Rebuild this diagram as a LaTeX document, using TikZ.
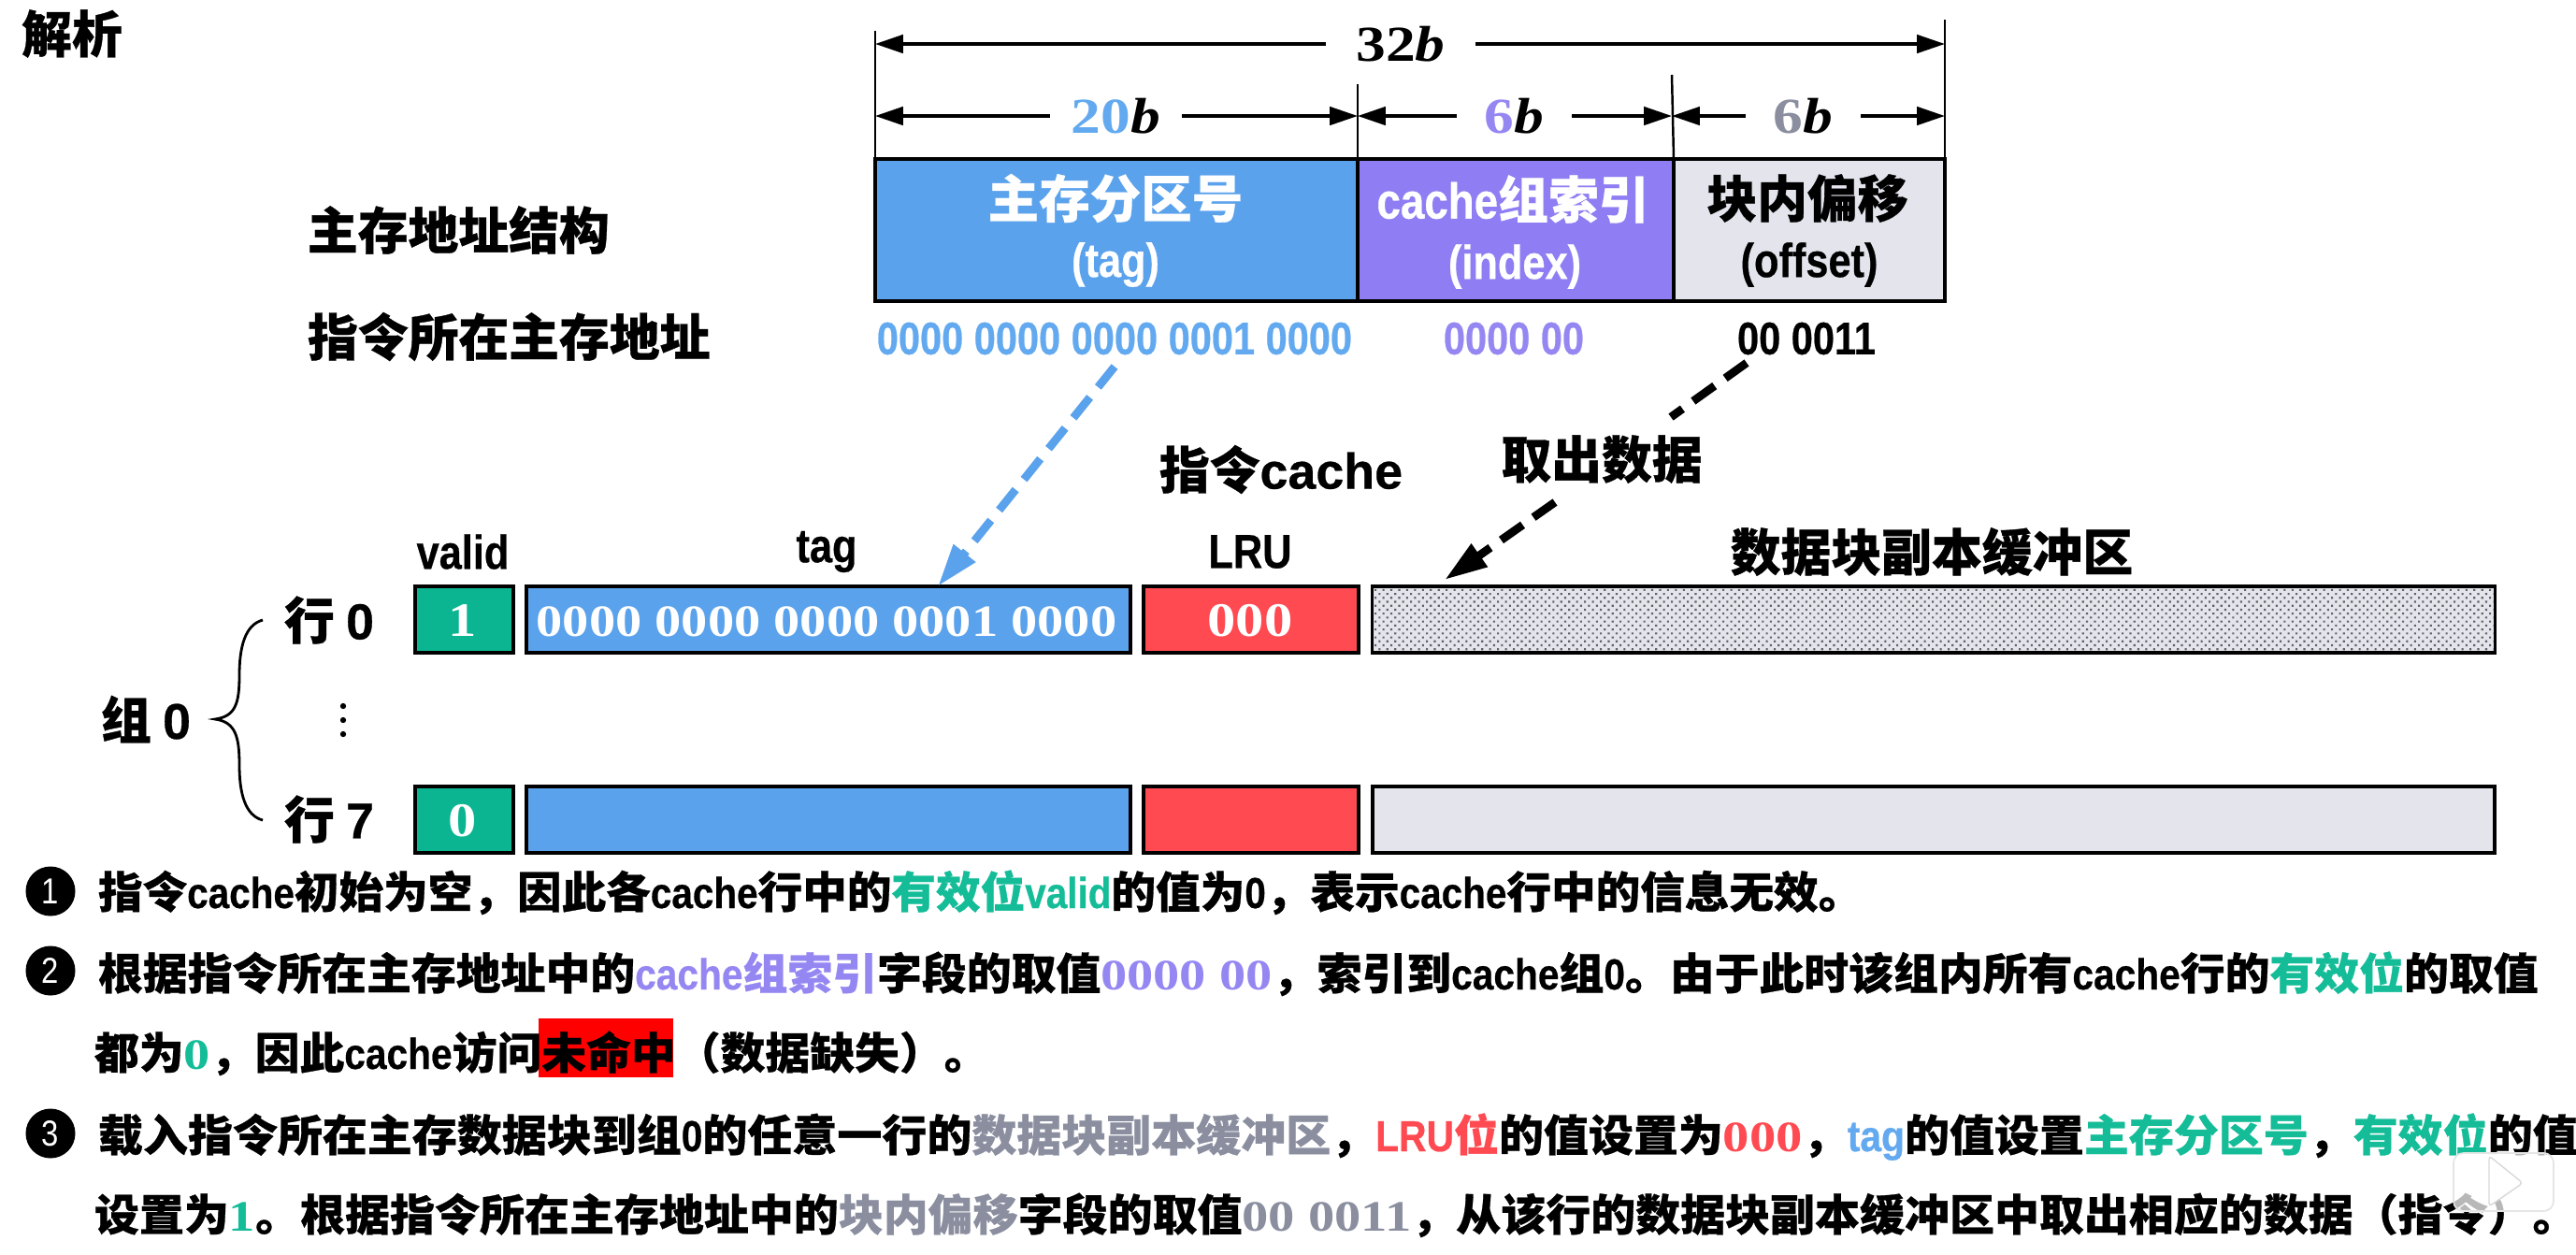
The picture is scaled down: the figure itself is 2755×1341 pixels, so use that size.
\documentclass[tikz,border=0pt]{standalone}
\usepackage{fontspec}
\usepackage{graphicx}
\usetikzlibrary{arrows.meta,patterns.meta}
\setmainfont{Noto Sans CJK SC}[BoldFeatures={FakeBold=0.6}]
\newfontfamily\lat{Liberation Sans}[FakeStretch=0.85,BoldFeatures={FakeBold=0.5}]
\newfontfamily\latw{Liberation Sans}[BoldFeatures={FakeBold=0.5}]
\newfontfamily\ser{Liberation Serif}[FakeStretch=1.18]
\definecolor{cblue}{HTML}{5BA2EC}
\definecolor{cpurple}{HTML}{8F7EF3}
\definecolor{cgray}{HTML}{E3E4EC}
\definecolor{cgreen}{HTML}{0CB592}
\definecolor{cred}{HTML}{FF4A52}
\definecolor{tblue}{HTML}{62A9EF}
\definecolor{tpurple}{HTML}{9587F2}
\definecolor{tgray}{HTML}{8A8E9F}
\definecolor{tgreen}{HTML}{14BC98}
\newcommand\sz[1]{\fontsize{#1}{#1}\selectfont}
\newcommand\la[1]{{\lat #1}}
\newcommand\se[1]{{\ser #1}}
\newcommand\cc[2]{\textcolor{#1}{#2}}
\newcommand\cell[7]{\node[cellbox,fill=#2,minimum width={(#5-#3)*0.01cm},minimum height={(#6-#4)*0.01cm}] (#1) at ({(#3+#5)/2},{(#4+#6)/2}) {#7};}
\newcommand\bodyline[5]{\node[bodytext] (#1) at (#2,#3) {\resizebox{#4cm}{\height}{#5}};}
\tikzset{
  cellbox/.style={draw=black,line width=0.9pt,inner sep=0pt,outer sep=0pt},
  big/.style={font=\bfseries\sz{15.3},inner sep=0pt,outer sep=0pt},
  latlabel/.style={font=\bfseries\sz{14.5}\lat,inner sep=0pt,outer sep=0pt},
  serlabel/.style={font=\bfseries\sz{13.6}\ser,inner sep=0pt,outer sep=0pt},
  sernum/.style={font=\bfseries\sz{14.6}\ser,inner sep=0pt,outer sep=0pt},
  dimlabel/.style={font=\bfseries\sz{15.3}\ser,inner sep=0pt,outer sep=0pt,minimum height=0.4cm},
  dimsingle/.style={line width=1pt,-{Triangle[length=8.5pt,width=5.5pt]}},
  tick/.style={line width=0.7pt},
  bodytext/.style={anchor=base west,font=\bfseries\sz{13.2},inner sep=0pt,outer sep=0pt},
  numdot/.style={circle,fill=black,text=white,minimum size=0.53cm,inner sep=0pt,font=\sz{11}\lat},
  dashline/.style={line width=2.5pt,dash pattern=on 8pt off 4pt},
}
\begin{document}
\begin{tikzpicture}[x=0.01cm,y=-0.01cm]
\useasboundingbox (0,0) rectangle (2755,1341);

\node[big] (title) at (77,36) {解析};
\node[big,anchor=west] (lblA) at (329,246) {主存地址结构};
\node[big,anchor=west] (lblB) at (329,360) {指令所在主存地址};

% address structure
\cell{fTag}{cblue}{936}{170}{1452}{322}{}
\cell{fIdx}{cpurple}{1452}{170}{1790}{322}{}
\cell{fOff}{cgray}{1790}{170}{2080}{322}{}
\node[big,font=\bfseries\sz{15.5},text=white] (tTag) at (1193,212) {主存分区号};
\node[latlabel,text=white] (tTagB) at (1193,283) {(tag)};
\node[big,text=white] (tIdx) at (1618,213) {\la{cache}组索引};
\node[latlabel,text=white] (tIdxB) at (1620,285) {(index)};
\node[big] (tOff) at (1933,212) {块内偏移};
\node[latlabel] (tOffB) at (1935,283) {(offset)};

% dimension ticks
\coordinate (k1) at (936,33);
\coordinate (k2) at (1452,90);
\coordinate (k3) at (1788,80);
\coordinate (k4) at (2080,21);
\draw[tick] (fTag.north west) -- (k1);
\draw[tick] (fTag.north east) -- (k2);
\draw[tick] (fOff.north west) -- (k3);
\draw[tick] (fOff.north east) -- (k4);

\node[dimlabel,minimum width=1.6cm] (d32) at (1498,47) {32\textit{b}};
\node[dimlabel,minimum width=1.41cm] (d20) at (1193.5,124) {\cc{tblue}{20}\textit{b}};
\node[dimlabel,minimum width=1.23cm] (d6a) at (1619.5,124) {\cc{tpurple}{6}\textit{b}};
\node[dimlabel,minimum width=1.23cm] (d6b) at (1928.5,124) {\cc{tgray}{6}\textit{b}};
\coordinate (a1) at (936,47);
\coordinate (a2) at (2080,47);
\coordinate (b1) at (936,124);
\coordinate (b2) at (1452,124);
\coordinate (b3) at (1788,124);
\coordinate (b4) at (2080,124);
\draw[dimsingle] (d32.west) -- (a1);
\draw[dimsingle] (d32.east) -- (a2);
\draw[dimsingle] (d20.west) -- (b1);
\draw[dimsingle] (d20.east) -- (b2);
\draw[dimsingle] (d6a.west) -- (b2);
\draw[dimsingle] (d6a.east) -- (b3);
\draw[dimsingle] (d6b.west) -- (b3);
\draw[dimsingle] (d6b.east) -- (b4);

% address bits
\node[latlabel,font=\bfseries\sz{13.9}\lat,text=tblue] (bTag) at (1192,362) {0000 0000 0000 0001 0000};
\node[latlabel,font=\bfseries\sz{13.9}\lat,text=tpurple] (bIdx) at (1619,362) {0000 00};
\node[latlabel,font=\bfseries\sz{13.9}\lat] (bOff) at (1932,362) {00 0011};

\node[big] (lCache) at (1370,502) {指令{\latw cache}};
\node[big] (lFetch) at (1713,491) {取出数据};

% cache headers
\node[latlabel] (hV) at (495,590) {valid};
\node[latlabel] (hT) at (884,590) {tag};
\node[latlabel] (hL) at (1337,590) {LRU};
\node[big] (hD) at (2066,590) {数据块副本缓冲区};

% cache rows
\cell{v0}{cgreen}{444}{627}{549}{698}{}
\cell{t0}{cblue}{563}{627}{1209}{698}{}
\cell{l0}{cred}{1223}{627}{1453}{698}{}
\node[cellbox,fill=cgray,minimum width=12.00cm,minimum height=0.71cm] (d0) at (2068,662.5) {};
\fill[pattern={Dots[distance=1.7pt,radius=0.42pt,angle=45]},pattern color=black!62] ([xshift=0.5pt,yshift=-0.5pt]d0.north west) rectangle ([xshift=-0.5pt,yshift=0.5pt]d0.south east);
\cell{v7}{cgreen}{444}{841}{549}{912}{}
\cell{t7}{cblue}{563}{841}{1209}{912}{}
\cell{l7}{cred}{1223}{841}{1453}{912}{}
\cell{d7}{cgray}{1468}{841}{2668}{912}{}
\node[sernum,text=white] (xV0) at (495,664) {1};
\node[serlabel,text=white] (xT0) at (884,665) {0000 0000 0000 0001 0000};
\node[sernum,text=white] (xL0) at (1337,664) {000};
\node[sernum,text=white] (xV7) at (495,878) {0};

% row labels
\node[big] (r0) at (352,663) {行 {\latw 0}};
\node[big] (r7) at (352,876) {行 {\latw 7}};
\node[big] (g0) at (156,769) {组 {\latw 0}};
\fill (367,755) circle (0.9pt) (367,770) circle (0.9pt) (367,785) circle (0.9pt);
\draw[line width=0.8pt] (281,663) .. controls (262,668) and (256,692) .. (256,722)
  .. controls (256,752) and (252,766) .. (230,769)
  .. controls (252,772) and (256,788) .. (256,818)
  .. controls (256,848) and (262,872) .. (281,877);

% dashed connectors
\coordinate (p1) at (1192,392);
\coordinate (p2) at (1003,627);
\draw[dashline,draw=cblue,-{Triangle[length=13pt,width=8pt]}] (p1) -- (p2);
\coordinate (q1) at (1868,388);
\coordinate (q2) at (1787,446);
\draw[dashline] (q1) -- (q2);
\coordinate (q3) at (1663,537);
\coordinate (q4) at (1545,620);
\draw[dashline,-{Triangle[length=13pt,width=8pt]}] (q3) -- (q4);

% explanation
\node[numdot] (n1) at (54,953) {1};
\node[numdot] (n2) at (54,1038) {2};
\node[numdot] (n3) at (54,1212) {3};
\fill[red] (576,1089) rectangle (720,1152);
\bodyline{L1}{105}{971}{18.86}{指令\la{cache}初始为空，因此各\la{cache}行中的\cc{tgreen}{有效位\la{valid}}的值为\la{0}，表示\la{cache}行中的信息无效。}
\bodyline{L2}{105}{1058}{26.08}{根据指令所在主存地址中的\cc{tpurple}{\la{cache}组索引}字段的取值\cc{tpurple}{\se{0000 00}}，索引到\la{cache}组\la{0}。由于此时该组内所有\la{cache}行的\cc{tgreen}{有效位}的取值}
\bodyline{L3}{101}{1143}{9.56}{都为\cc{tgreen}{\se{0}}，因此\la{cache}访问未命中（数据缺失）。}
\bodyline{L4}{105}{1231}{26.50}{载入指令所在主存数据块到组\la{0}的任意一行的\cc{tgray}{数据块副本缓冲区}，\cc{cred}{\la{LRU}位}的值设置为\cc{cred}{\se{000}}，\cc{tblue}{\la{tag}}的值设置\cc{tgreen}{主存分区号}，\cc{tgreen}{有效位}的值}
\bodyline{L5}{101}{1316}{26.54}{设置为\cc{tgreen}{\se{1}}。根据指令所在主存地址中的\cc{tgray}{块内偏移}字段的取值\cc{tgray}{\se{00 0011}}，从该行的数据块副本缓冲区中取出相应的数据（指令）。}

% player badge
\fill[white,fill opacity=0.72,rounded corners=3pt] (2624,1233) rectangle (2731,1295);
\draw[black!10,line width=0.5pt,rounded corners=3pt] (2624,1233) rectangle (2731,1295);
\fill[white,draw=black!15,line width=0.4pt,rounded corners=1pt] (2662,1236) -- (2698,1265) -- (2662,1290) -- cycle;
\end{tikzpicture}
\end{document}
